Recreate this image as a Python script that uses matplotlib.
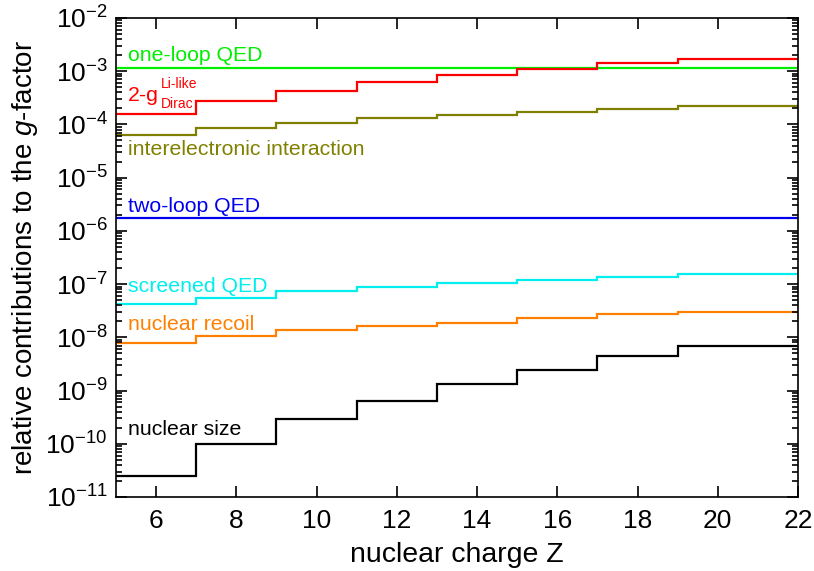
import numpy as np
import matplotlib.pyplot as plt
from matplotlib.ticker import LogLocator, FixedLocator

plt.rcParams['font.family'] = ['Liberation Sans', 'DejaVu Sans']
plt.rcParams['mathtext.fontset'] = 'custom'
plt.rcParams['mathtext.rm'] = 'Liberation Sans'
plt.rcParams['mathtext.it'] = 'Liberation Sans:italic'

# bin edges in Z (values hold from each edge to the next)
z_edges = [5, 7, 9, 11, 13, 15, 17, 19, 22]

one_loop = [1.16e-3] * 8
dirac = [1.58e-4, 2.8e-4, 4.3e-4, 6.4e-4, 8.4e-4, 1.08e-3, 1.4e-3, 1.7e-3]
interel = [6.4e-5, 8.6e-5, 1.08e-4, 1.31e-4, 1.5e-4, 1.74e-4, 1.95e-4, 2.2e-4]
two_loop = [1.76e-6] * 8
screened = [4.2e-8, 5.6e-8, 7.4e-8, 8.9e-8, 1.03e-7, 1.19e-7, 1.37e-7, 1.54e-7]
recoil = [7.9e-9, 1.08e-8, 1.35e-8, 1.65e-8, 1.89e-8, 2.3e-8, 2.7e-8, 3.0e-8]
size = [2.5e-11, 1.0e-10, 2.9e-10, 6.5e-10, 1.31e-9, 2.48e-9, 4.5e-9, 7.0e-9]

series = [
    (one_loop, '#00ee00'),
    (dirac, '#ff0000'),
    (interel, '#808000'),
    (two_loop, '#0000ee'),
    (screened, '#00eeee'),
    (recoil, '#ff8000'),
    (size, '#000000'),
]

fig = plt.figure(figsize=(8.14, 5.71), dpi=100)
ax = fig.add_axes([0.1425, 0.1296, 0.8378, 0.8389])

for vals, col in series:
    ax.stairs(vals, z_edges, color=col, lw=1.6, baseline=None)

ax.set_yscale('log')
ax.set_xlim(5, 22)
ax.set_ylim(1e-11, 1e-2)
ax.xaxis.set_major_locator(FixedLocator(np.arange(6, 23, 2)))
ax.yaxis.set_major_locator(LogLocator(base=10, numticks=20))
ax.yaxis.set_minor_locator(LogLocator(base=10, subs=np.arange(2, 10), numticks=20))
ax.tick_params(which='both', direction='in', top=True, right=True, width=1.2)
ax.tick_params(axis='x', labelsize=19, pad=9)
ax.tick_params(axis='y', labelsize=19, pad=6)
ax.tick_params(which='major', length=8)
ax.tick_params(which='minor', length=4)
ax.tick_params(axis='x', which='minor', bottom=False, top=False)
for sp in ax.spines.values():
    sp.set_linewidth(1.2)

ax.set_xlabel('nuclear charge Z', fontsize=20.5, labelpad=6)
ax.set_ylabel('relative contributions to the $g$-factor', fontsize=20, labelpad=4)

tx = 0.018
fs = 15.3
ax.text(tx, 0.922, 'one-loop QED', transform=ax.transAxes, color='#00ee00', fontsize=fs, va='center')
# 2-g with stacked Li-like / Dirac indices
ax.text(tx, 0.8273, '2-g', transform=ax.transAxes, color='#ff0000', fontsize=fs, va='baseline')
ax.text(0.066, 0.8539, 'Li-like', transform=ax.transAxes, color='#ff0000', fontsize=10, va='baseline')
ax.text(0.066, 0.8121, 'Dirac', transform=ax.transAxes, color='#ff0000', fontsize=10, va='baseline')
ax.text(tx, 0.726, 'interelectronic interaction', transform=ax.transAxes, color='#808000', fontsize=fs, va='center')
ax.text(tx, 0.606, 'two-loop QED', transform=ax.transAxes, color='#0000ee', fontsize=fs, va='center')
ax.text(tx, 0.44, 'screened QED', transform=ax.transAxes, color='#00eeee', fontsize=fs, va='center')
ax.text(tx, 0.36, 'nuclear recoil', transform=ax.transAxes, color='#ff8000', fontsize=fs, va='center')
ax.text(tx, 0.14, 'nuclear size', transform=ax.transAxes, color='#000000', fontsize=fs, va='center')

fig.savefig('out.png', dpi=100)
